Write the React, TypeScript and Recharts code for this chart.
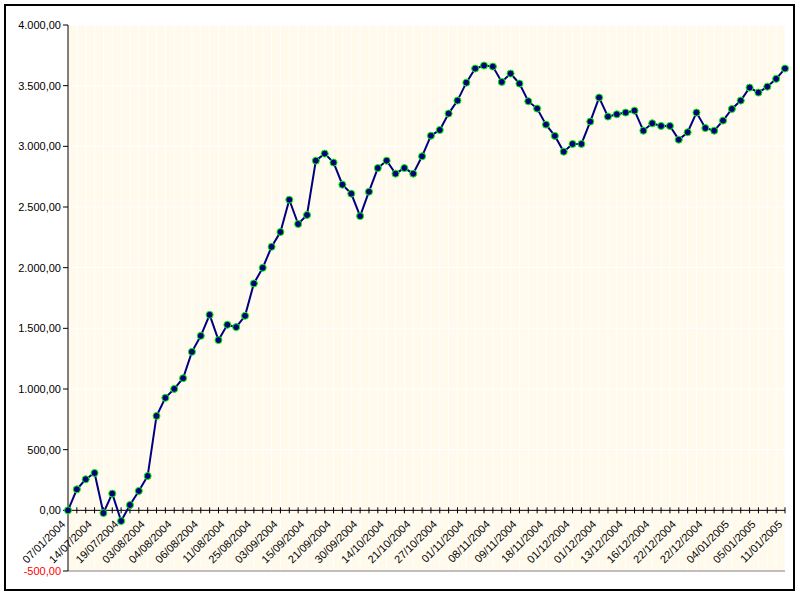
import { LineChart, Line, XAxis, YAxis, CartesianGrid, ReferenceLine } from "recharts";

// category labels shown every 3rd point
const dateLabels = [
  "07/01/2004", "14/07/2004", "19/07/2004", "03/08/2004", "04/08/2004", "06/08/2004",
  "11/08/2004", "25/08/2004", "03/09/2004", "15/09/2004", "21/09/2004", "30/09/2004",
  "14/10/2004", "21/10/2004", "27/10/2004", "01/11/2004", "08/11/2004", "09/11/2004",
  "18/11/2004", "01/12/2004", "01/12/2004", "13/12/2004", "16/12/2004", "22/12/2004",
  "22/12/2004", "04/01/2005", "05/01/2005", "11/01/2005",
];

const values = [
  0, 173, 256, 308, -22, 138, -88, 44, 160, 283,
  778, 927, 1001, 1089, 1306, 1438, 1611, 1403, 1529, 1510,
  1603, 1870, 1999, 2172, 2294, 2560, 2360, 2434, 2882, 2940,
  2866, 2684, 2610, 2425, 2626, 2821, 2882, 2775, 2821, 2775,
  2918, 3088, 3135, 3270, 3377, 3525, 3641, 3666, 3657, 3531,
  3600, 3517, 3372, 3311, 3179, 3086, 2956, 3020, 3020, 3204,
  3402, 3245, 3264, 3278, 3294, 3129, 3190, 3168, 3168, 3055,
  3116, 3278, 3151, 3129, 3212, 3308, 3377, 3484, 3443, 3492,
  3556, 3641,
];

const yTicks = [-500, 0, 500, 1000, 1500, 2000, 2500, 3000, 3500, 4000];

const data = values.map((v, i) => ({ idx: i, value: v }));
const xTicks = values.map((_, i) => i);

const FONT = "'Liberation Sans', Arial, sans-serif";

function fmt(v: number) {
  const [int, dec] = Math.abs(v).toFixed(2).split(".");
  const withDots = int.replace(/\B(?=(\d{3})+(?!\d))/g, ".");
  return (v < 0 ? "-" : "") + withDots + "," + dec;
}

const XTick = (props: any) => {
  const { x, y, payload } = props;
  const i = payload.value;
  if (i % 3 !== 0) return <g />;
  return (
    <g transform={`translate(${x - 2},${y - 46})`}>
      <text textAnchor="end" transform="rotate(-45)" fontSize={11} fontFamily={FONT} fill="#000">
        {dateLabels[i / 3]}
      </text>
    </g>
  );
};

const YTick = (props: any) => {
  const { x, y, payload } = props;
  return (
    <text x={x} y={y} dy={4} textAnchor="end" fontSize={11} fontFamily={FONT}
      fill={payload.value < 0 ? "#FF0000" : "#000"}>
      {fmt(payload.value)}
    </text>
  );
};

export default function App() {
  return (
    <div style={{ position: "absolute", left: 0, top: 0, width: 800, height: 596, background: "#fff" }}>
      <div
        style={{
          position: "absolute", left: 4, top: 4, width: 791, height: 587,
          border: "2px solid #000", boxSizing: "border-box",
        }}
      />
      <div style={{ position: "absolute", left: 0, top: 0 }}>
        <LineChart width={800} height={596} data={data} margin={{ top: 25, right: 15, bottom: 0, left: 0 }}>
          <CartesianGrid fill="#FFFAEC" stroke="#FFFFFF" strokeWidth={1} />
          <XAxis
            dataKey="idx"
            type="number"
            domain={[0, 81]}
            ticks={xTicks}
            interval={0}
            height={25}
            tickSize={0}
            tickMargin={0}
            tickLine={false}
            axisLine={{ stroke: "#808080" }}
            tick={<XTick />}
          />
          <XAxis xAxisId="top" orientation="top" type="number" domain={[0, 81]} height={0}
            tick={false} tickLine={false} axisLine={{ stroke: "#808080" }} />
          <YAxis
            domain={[-500, 4000]}
            ticks={yTicks}
            interval={0}
            width={68}
            tickSize={5}
            tickMargin={2}
            axisLine={{ stroke: "#000" }}
            tickLine={{ stroke: "#000" }}
            tick={<YTick />}
          />
          <YAxis yAxisId="r" orientation="right" width={0} tick={false} tickLine={false}
            axisLine={{ stroke: "#808080" }} />
          <ReferenceLine y={0} stroke="#000" strokeWidth={1} />
          {xTicks.map((i) => (
            <ReferenceLine key={i} segment={[{ x: i, y: -25 }, { x: i, y: 25 }]} stroke="#000" strokeWidth={1} />
          ))}
          <Line
            type="linear"
            dataKey="value"
            stroke="#000080"
            strokeWidth={2}
            dot={{ r: 3.5, fill: "#000080", stroke: "#00FF00", strokeWidth: 1 }}
            isAnimationActive={false}
          />
        </LineChart>
      </div>
    </div>
  );
}
